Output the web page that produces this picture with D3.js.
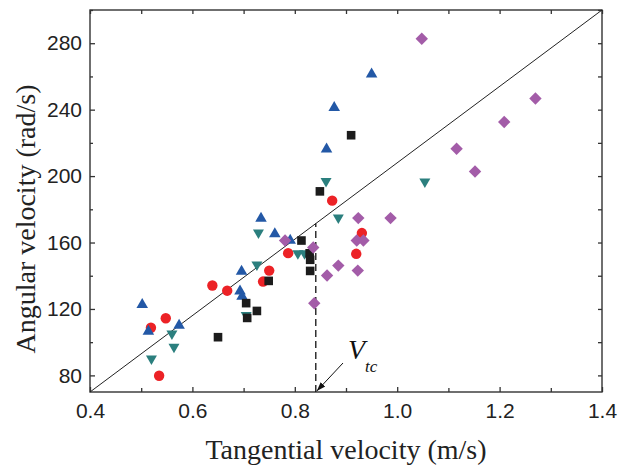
<!DOCTYPE html>
<html>
<head>
<meta charset="utf-8">
<script src="https://cdn.jsdelivr.net/npm/d3@7"></script>
<style>
  html,body{margin:0;padding:0;background:#fff;}
  svg{display:block;}
  .tk text{font-family:"Liberation Sans",Arial,sans-serif;font-size:21px;fill:#222;}
  .tk line{stroke:#333;stroke-width:1.3;}
  .tk .domain{display:none;}
</style>
</head>
<body>
<div id="chart"></div>
<script>
// scatter — angular vs tangential velocity
const blackSq  = [[0.65,103],[0.705,123.5],[0.707,114.6],[0.726,118.8],[0.749,136.9],[0.813,161.2],
                  [0.829,153.5],[0.83,149.6],[0.83,142.9],[0.849,190.8],[0.91,224.6]];
const redCirc  = [[0.535,79.8],[0.519,108.7],[0.548,114.4],[0.639,134.1],[0.668,131],[0.738,136.5],
                  [0.75,143.1],[0.787,153.6],[0.873,185.2],[0.931,165.7],[0.92,153.2]];
const blueUp   = [[0.502,123.4],[0.514,107.3],[0.574,110.9],[0.693,131.5],[0.697,128.4],[0.696,143.5],
                  [0.734,175.3],[0.761,166],[0.791,162.1],[0.862,217],[0.877,242.1],[0.95,262.2]];
const tealDown = [[0.52,89.2],[0.56,104.3],[0.564,96.3],[0.705,115.4],[0.726,145.9],[0.729,165.2],
                  [0.806,152.6],[0.819,152.6],[0.861,196.2],[0.885,174.1],[1.054,195.8]];
const purpDia  = [[0.781,161.2],[0.836,157],[0.838,123.4],[0.863,140.1],[0.885,146.1],[0.923,143.1],
                  [0.921,161.2],[0.934,161.2],[0.924,174.7],[0.987,174.7],[1.152,202.8],[1.116,216.5],
                  [1.209,232.6],[1.27,246.7],[1.048,282.7]];
const xTicks = [0.4,0.6,0.8,1.0,1.2,1.4];
const xMinor = [0.5,0.7,0.9,1.1,1.3];
const yTicks = [80,120,160,200,240,280];
const yMinor = [100,140,180,220,260,300];
const diag = [[0.4,70],[1.4,300]];
const vtc = 0.841;

(function(){
  const W=619, H=468;
  const m={top:10,right:17,bottom:76,left:90};
  const x = d3.scaleLinear().domain([0.4,1.4]).range([m.left, W-m.right]);
  const y = d3.scaleLinear().domain([70,300]).range([H-m.bottom, m.top]);
  const svg = d3.select('#chart').append('svg').attr('width',W).attr('height',H);

  const bot=H-m.bottom, rgt=W-m.right;
  const fmt = d=>d.toFixed(1);

  // ticks (inward)
  svg.append('g').attr('class','tk').attr('transform',`translate(0,${bot})`)
    .call(d3.axisBottom(x).tickValues(xTicks).tickFormat(fmt).tickSizeInner(-5).tickSizeOuter(0).tickPadding(11));
  svg.append('g').attr('class','tk').attr('transform',`translate(0,${bot})`)
    .call(d3.axisBottom(x).tickValues(xMinor).tickFormat('').tickSizeInner(-4).tickSizeOuter(0));
  svg.append('g').attr('class','tk').attr('transform',`translate(${m.left},0)`)
    .call(d3.axisLeft(y).tickValues(yTicks).tickSizeInner(-5).tickSizeOuter(0).tickPadding(8));
  svg.append('g').attr('class','tk').attr('transform',`translate(${m.left},0)`)
    .call(d3.axisLeft(y).tickValues(yMinor).tickFormat('').tickSizeInner(-3).tickSizeOuter(0));
  svg.append('g').attr('class','tk').attr('transform',`translate(0,${m.top})`)
    .call(d3.axisTop(x).tickValues(xTicks.concat(xMinor)).tickFormat('').tickSizeInner(-4).tickSizeOuter(0));
  svg.append('g').attr('class','tk').attr('transform',`translate(${rgt},0)`)
    .call(d3.axisRight(y).tickValues(yTicks.concat(yMinor)).tickFormat('').tickSizeInner(-4).tickSizeOuter(0));

  // frame
  svg.append('rect').attr('x',m.left).attr('y',m.top).attr('width',rgt-m.left).attr('height',bot-m.top)
    .attr('fill','none').attr('stroke','#333').attr('stroke-width',1.4);

  // diagonal
  svg.append('line').attr('x1',x(diag[0][0])).attr('y1',y(diag[0][1])).attr('x2',x(diag[1][0])).attr('y2',y(diag[1][1]))
    .attr('stroke','#222').attr('stroke-width',1);

  // V_tc dashed line up to diagonal
  const yd = diag[0][1] + (vtc-diag[0][0])*(diag[1][1]-diag[0][1])/(diag[1][0]-diag[0][0]);
  svg.append('line').attr('x1',x(vtc)).attr('x2',x(vtc)).attr('y1',bot).attr('y2',y(yd))
    .attr('stroke','#111').attr('stroke-width',1.3).attr('stroke-dasharray','7,4');

  // arrow
  svg.append('defs').append('marker').attr('id','ah').attr('viewBox','0 0 10 10')
    .attr('refX',10).attr('refY',5).attr('markerWidth',9).attr('markerHeight',9).attr('orient','auto')
    .attr('markerUnits','userSpaceOnUse')
    .append('path').attr('d','M0,1.5L10,5L0,8.5z').attr('fill','#111');
  svg.append('line').attr('x1',343).attr('y1',363).attr('x2',x(vtc)+1).attr('y2',bot-1)
    .attr('stroke','#111').attr('stroke-width',1).attr('marker-end','url(#ah)');
  const vt = svg.append('text').attr('x',348).attr('y',359)
    .style('font-family','"Liberation Serif","Times New Roman",serif').style('font-style','italic')
    .style('font-size','28px').style('fill','#111');
  vt.append('tspan').text('V');
  vt.append('tspan').attr('x',365).attr('y',372).style('font-size','17px').text('tc');

  // markers
  const g = svg.append('g');
  g.selectAll('circle.red').data(redCirc).join('circle').attr('class','red')
    .attr('cx',d=>x(d[0])).attr('cy',d=>y(d[1])).attr('r',5.2).attr('fill','#ec2226');
  const tri = (s,dir)=>`M0,${-dir*s*0.5}L${s*0.55},${dir*s*0.45}L${-s*0.55},${dir*s*0.45}Z`;
  g.selectAll('path.blue').data(blueUp).join('path').attr('class','blue')
    .attr('transform',d=>`translate(${x(d[0])},${y(d[1])})`).attr('d',tri(10.5,1)).attr('fill','#2358a6');
  g.selectAll('path.teal').data(tealDown).join('path').attr('class','teal')
    .attr('transform',d=>`translate(${x(d[0])},${y(d[1])})`).attr('d',tri(10,-1)).attr('fill','#2b7f7e');
  g.selectAll('rect.blk').data(blackSq).join('rect').attr('class','blk')
    .attr('x',d=>x(d[0])-4.3).attr('y',d=>y(d[1])-4.3).attr('width',8.6).attr('height',8.6).attr('fill','#1c1c1c');
  g.selectAll('path.pur').data(purpDia).join('path').attr('class','pur')
    .attr('transform',d=>`translate(${x(d[0])},${y(d[1])})`).attr('d','M0,-6.2L6.2,0L0,6.2L-6.2,0Z').attr('fill','#a35ca8');

  // titles
  svg.append('text').attr('x',(m.left+rgt)/2).attr('y',459).attr('text-anchor','middle')
    .style('font-family','"Liberation Serif","Times New Roman",serif').style('font-size','28px').style('fill','#222')
    .text('Tangential velocity (m/s)');
  svg.append('text').attr('transform','rotate(-90)').attr('x',-219).attr('y',35).attr('text-anchor','middle')
    .style('font-family','"Liberation Serif","Times New Roman",serif').style('font-size','28px').style('fill','#222')
    .text('Angular velocity (rad/s)');
})();
</script>
</body>
</html>
